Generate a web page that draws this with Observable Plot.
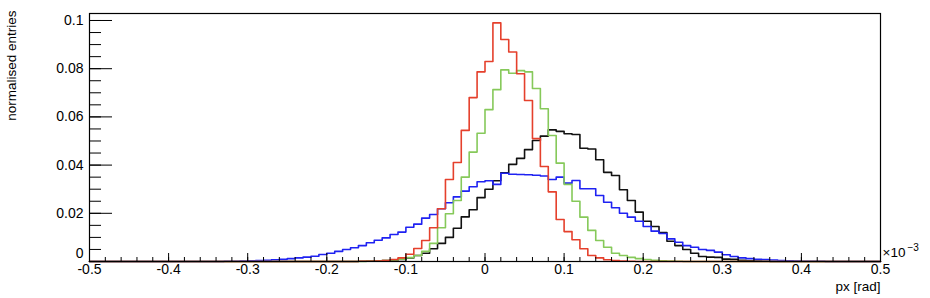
<!DOCTYPE html>
<html>
<head>
<meta charset="utf-8">
<script src="https://cdn.jsdelivr.net/npm/d3@7"></script>
<script src="https://cdn.jsdelivr.net/npm/@observablehq/plot@0.6"></script>
<style>
  html, body { margin: 0; padding: 0; background: white; }
</style>
</head>
<body>
<div id="chart"></div>
<script>
// Histogram binning: 100 bins of width 0.01 from -0.5 to 0.5
const xMin = -0.5;
const xMax = 0.5;
const binWidth = 0.01;

// normalised entries per bin (bin i starts at xMin + i*binWidth)
const blackValues = [
  0,0,0,0,0,0,0,0,0,0,
  0,0,0,0,0,0,0,0,0,0,
  0,0,0,0,0,0,0,0,0,0,
  0,0,0,0,0.0001,0.0002,0.0003,0.0004,0.0005,0.0008,
  0.0015,0.0025,0.0034,0.0053,0.0075,0.0100,0.0138,0.0185,0.0215,0.0265,
  0.0300,0.0335,0.0368,0.0403,0.0428,0.0464,0.0502,0.0520,0.0546,0.0540,
  0.0530,0.0527,0.0470,0.0467,0.0422,0.0370,0.0357,0.0298,0.0253,0.0205,
  0.0167,0.0145,0.0120,0.0084,0.0066,0.0050,0.0034,0.0021,0.0018,0.0017,
  0.0010,0.0009,0.0005,0.0003,0.0002,0.0001,0,0,0,0,
  0,0,0,0,0,0,0,0,0,0
];
const blueValues = [
  0,0,0,0,0,0,0,0,0,0,
  0,0,0,0,0,0,0,0.0001,0.0001,0.0002,
  0.0003,0.0004,0.0005,0.0007,0.0009,0.0012,0.0015,0.0018,0.0022,0.0029,
  0.0034,0.0042,0.0050,0.0057,0.0066,0.0078,0.0088,0.0098,0.0112,0.0122,
  0.0142,0.0155,0.0180,0.0195,0.0219,0.0244,0.0268,0.0292,0.0310,0.0331,
  0.0335,0.0320,0.0366,0.0362,0.0361,0.0360,0.0358,0.0355,0.0340,0.0350,
  0.0325,0.0336,0.0302,0.0302,0.0274,0.0246,0.0223,0.0200,0.0184,0.0167,
  0.0145,0.0126,0.0116,0.0094,0.0080,0.0066,0.0059,0.0050,0.0046,0.0039,
  0.0028,0.0021,0.0015,0.0012,0.0009,0.0008,0.0006,0.0004,0.0003,0.0002,
  0.0001,0.0001,0.0001,0,0,0,0,0,0,0
];
const greenValues = [
  0,0,0,0,0,0,0,0,0,0,
  0,0,0,0,0,0,0,0,0,0,
  0,0,0,0,0,0,0,0,0,0,
  0,0,0,0,0,0.0001,0.0002,0.0004,0.0006,0.0010,
  0.0016,0.0025,0.0042,0.0075,0.0140,0.0198,0.0253,0.0350,0.0454,0.0532,
  0.0630,0.0713,0.0795,0.0781,0.0792,0.0787,0.0718,0.0634,0.0523,0.0408,
  0.0320,0.0250,0.0184,0.0129,0.0087,0.0059,0.0034,0.0025,0.0017,0.0012,
  0.0008,0.0005,0.0003,0.0002,0.0001,0,0,0,0,0,
  0,0,0,0,0,0,0,0,0,0,
  0,0,0,0,0,0,0,0,0,0
];
const redValues = [
  0,0,0,0,0,0,0,0,0,0,
  0,0,0,0,0,0,0,0,0,0,
  0,0,0,0,0,0,0,0,0,0,
  0,0,0,0,0.0001,0.0001,0.0002,0.0004,0.0008,0.0015,
  0.0030,0.0054,0.0087,0.0140,0.0219,0.0340,0.0411,0.0544,0.0680,0.0787,
  0.0830,0.0990,0.0921,0.0869,0.0779,0.0668,0.0510,0.0394,0.0289,0.0174,
  0.0124,0.0090,0.0053,0.0025,0.0015,0.0007,0.0004,0.0002,0.0001,0,
  0,0,0,0,0,0,0,0,0,0,
  0,0,0,0,0,0,0,0,0,0,
  0,0,0,0,0,0,0,0,0,0
];

// ticks and labels
const xMajorTicks = [-0.5,-0.4,-0.3,-0.2,-0.1,0,0.1,0.2,0.3,0.4,0.5];
const xTickLabels = ["-0.5","-0.4","-0.3","-0.2","-0.1","0","0.1","0.2","0.3","0.4","0.5"];
const xMinorTicks = d3.range(-0.5, 0.5001, 0.02).map(v => +v.toFixed(3));
const yMajorTicks = [0, 0.02, 0.04, 0.06, 0.08, 0.1];
const yTickLabels = ["0", "0.02", "0.04", "0.06", "0.08", "0.1"];
const yMinorTicks = d3.range(0, 0.1001, 0.005).map(v => +v.toFixed(4));
const xTitle = "px [rad]";
const yTitle = "normalised entries";
const xExponentBase = "\u00d710";
const xExponent = "\u22123";

const series = [
  {name: "black", values: blackValues, color: "#111111"},
  {name: "blue", values: blueValues, color: "#1f22f2"},
  {name: "green", values: greenValues, color: "#86c95a"},
  {name: "red", values: redValues, color: "#e5402c"}
];

function stepPoints(values) {
  const pts = values.map((v, i) => ({x: xMin + i * binWidth, y: v}));
  pts.push({x: xMax, y: values[values.length - 1]});
  return pts;
}

const xLabelMap = new Map(xMajorTicks.map((t, i) => [t, xTickLabels[i]]));
const yLabelMap = new Map(yMajorTicks.map((t, i) => [t, yTickLabels[i]]));

const font = "'Liberation Sans', Arial, Helvetica, sans-serif";

const chart = Plot.plot({
  width: 930,
  height: 298,
  marginLeft: 89,
  marginRight: 50,
  marginTop: 13,
  marginBottom: 37,
  x: {domain: [xMin, xMax]},
  y: {domain: [0, 0.1029]},
  style: {fontFamily: font, fontSize: "14px", background: "white", color: "black"},
  marks: [
    ...series.map(s => Plot.lineY(stepPoints(s.values), {
      x: "x", y: "y", curve: "step-after", stroke: s.color, strokeWidth: 1.6
    })),
    Plot.frame({stroke: "black", strokeWidth: 1.2}),
    // x ticks (inside, pointing up)
    Plot.axisX({ticks: xMajorTicks, tickSize: -8, tickFormat: () => "", label: null, strokeWidth: 1}),
    Plot.axisX({ticks: xMinorTicks, tickSize: -4, tickFormat: () => "", label: null, strokeWidth: 1}),
    Plot.axisX({ticks: xMajorTicks, tickSize: 0, tickPadding: 3, tickFormat: d => xLabelMap.get(+d.toFixed(3)), label: null, fontSize: 14}),
    // y ticks (inside, pointing right)
    Plot.axisY({ticks: yMajorTicks, tickSize: -23, tickFormat: () => "", label: null, strokeWidth: 1}),
    Plot.axisY({ticks: yMinorTicks, tickSize: -12, tickFormat: () => "", label: null, strokeWidth: 1}),
    Plot.axisY({ticks: yMajorTicks.filter(t => t !== 0), tickSize: 0, tickPadding: 6, tickFormat: d => yLabelMap.get(+d.toFixed(3)), label: null, fontSize: 14}),
    Plot.axisY({ticks: [0], tickSize: 0, tickPadding: 6, tickFormat: d => yLabelMap.get(d), label: null, fontSize: 14, dy: -8}),
    // titles
    Plot.text([xTitle], {frameAnchor: "bottom-right", text: d => d, textAnchor: "end", lineAnchor: "middle", dy: 25, fontSize: 13.5}),
    Plot.text([xExponentBase], {frameAnchor: "bottom-right", text: d => d, textAnchor: "start", lineAnchor: "middle", dx: 2, dy: -9, fontSize: 13.5}),
    Plot.text([xExponent], {frameAnchor: "bottom-right", text: d => d, textAnchor: "start", lineAnchor: "middle", dx: 27, dy: -14, fontSize: 10}),
    Plot.text([yTitle], {frameAnchor: "top-left", text: d => d, textAnchor: "end", lineAnchor: "middle", rotate: -90, dx: -77.5, dy: -3, fontSize: 13.5})
  ]
});

document.getElementById("chart").appendChild(chart);
</script>
</body>
</html>
